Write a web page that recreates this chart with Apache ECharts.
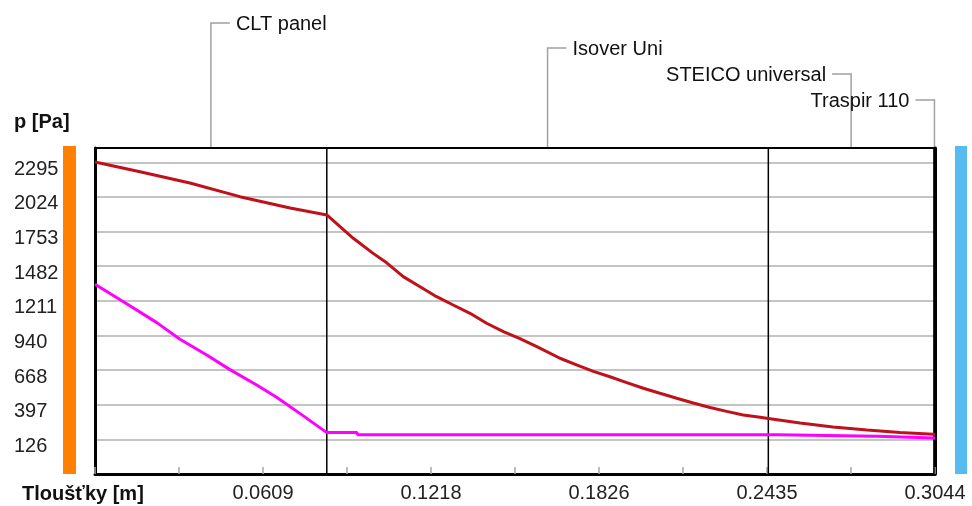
<!DOCTYPE html>
<html>
<head>
<meta charset="utf-8">
<script src="https://cdn.jsdelivr.net/npm/echarts@6/dist/echarts.min.js"></script>
<style>
  html, body { margin: 0; padding: 0; background: #fff; }
  #main { width: 972px; height: 506px; }
</style>
</head>
<body>
<div id="main"></div>
<script>
// layers of the wall (thickness in m)
const layerNames = ['CLT panel', 'Isover Uni', 'STEICO universal', 'Traspir 110'];
const layerThickness = [0.084, 0.16, 0.06, 0.0004];

// x axis
const xMax = 0.3044;
const xTickStep = 0.03044;
const xTickLabels = ['0.0609', '0.1218', '0.1826', '0.2435', '0.3044'];

// y axis
const yMin = -145.1;
const yStep = 271.1;
const yMax = 2407;
const yTickLabels = ['126', '397', '668', '940', '1211', '1482', '1753', '2024', '2295'];

// saturated vapour pressure (red)
const satX = [0, 0.0163, 0.0344, 0.0525, 0.0707, 0.084, 0.0888, 0.0936, 0.1008, 0.1057, 0.1117, 0.1178,
  0.1238, 0.1298, 0.1359, 0.1419, 0.148, 0.154, 0.1601, 0.1685, 0.1745, 0.1806, 0.1866, 0.1927,
  0.1987, 0.2047, 0.2108, 0.2168, 0.2229, 0.2289, 0.2349, 0.241, 0.244, 0.2555, 0.2674, 0.2798,
  0.2917, 0.3037, 0.3044];
const satP = [2298, 2221, 2133, 2026, 1937, 1883, 1791, 1700, 1582, 1508, 1400, 1321,
  1243, 1178, 1113, 1035, 969, 914, 852, 761, 709, 658, 616, 570,
  526, 487, 448, 411, 376, 345, 317, 299, 290, 255, 223, 200,
  179, 166, 165];

// partial vapour pressure (magenta)
const partX = [0, 0.0103, 0.0224, 0.0308, 0.0405, 0.0489, 0.0586, 0.0658, 0.0755, 0.084,
  0.0949, 0.0952, 0.2475, 0.2478, 0.2834, 0.2837, 0.3044];
const partP = [1340, 1204, 1040, 910, 787, 672, 552, 455, 310, 179,
  179, 162, 162, 151, 151, 137, 137];

const font = '"Liberation Sans", Arial, sans-serif';

// layer boundaries
const bounds = [];
let acc = 0;
layerThickness.forEach(t => { acc += t; bounds.push(+acc.toFixed(4)); });

const hiddenAxis = {
  axisLine: { show: true, onZero: false, lineStyle: { color: '#000', width: 2 } },
  axisTick: { show: false },
  axisLabel: { show: false },
  splitLine: { show: false }
};

const series = [
  {
    type: 'line',
    data: satX.map((x, i) => [x, satP[i]]),
    showSymbol: false,
    lineStyle: { color: '#c0101a', width: 3 },
    z: 4
  },
  {
    type: 'line',
    data: partX.map((x, i) => [x, partP[i]]),
    showSymbol: false,
    lineStyle: { color: '#ff00ff', width: 3 },
    z: 3
  }
];
// vertical lines at the layer joints
bounds.slice(0, 3).forEach(b => {
  series.push({
    type: 'line',
    data: [[b, yMin], [b, yMax]],
    showSymbol: false,
    silent: true,
    lineStyle: { color: '#000', width: 1.5 },
    z: 2
  });
});

const chart = echarts.init(document.getElementById('main'));

chart.setOption({
  animation: false,
  backgroundColor: '#fff',
  grid: { left: 95, right: 37, top: 148, bottom: 32 },
  xAxis: [
    {
      type: 'value',
      min: 0,
      max: xMax,
      interval: xTickStep,
      axisLine: { show: true, onZero: false, lineStyle: { color: '#000', width: 3 } },
      axisTick: { show: true, inside: true, length: 7, lineStyle: { color: '#a8a8a8', width: 1.5 } },
      splitLine: { show: false },
      axisLabel: {
        margin: 9,
        color: '#222',
        fontFamily: font,
        fontSize: 20,
        formatter: (v, i) => (i > 0 && i % 2 === 0) ? (xTickLabels[i / 2 - 1] || '') : ''
      }
    },
    Object.assign({ type: 'value', position: 'top', min: 0, max: xMax }, hiddenAxis)
  ],
  yAxis: [
    {
      type: 'value',
      min: yMin,
      max: yMax,
      interval: yStep,
      axisLine: { show: true, onZero: false, lineStyle: { color: '#000', width: 3 } },
      axisTick: { show: false },
      splitLine: { show: true, lineStyle: { color: '#c4c4c4', width: 2 } },
      axisLabel: {
        align: 'left',
        margin: 81,
        color: '#222',
        fontFamily: font,
        fontSize: 20,
        verticalAlign: 'top',
        lineHeight: 14,
        formatter: (v, i) => yTickLabels[i - 1] || ''
      }
    },
    Object.assign({ type: 'value', position: 'right', min: yMin, max: yMax }, hiddenAxis, {
      axisLine: { show: true, onZero: false, lineStyle: { color: '#000', width: 3 } }
    })
  ],
  series: series
});

// leaders and layer names above the plot
const gridTop = chart.convertToPixel({ yAxisIndex: 0 }, yMax);
const gridBottom = chart.convertToPixel({ yAxisIndex: 0 }, yMin);
const leaderY = [23, 48, 74, 100];
const leaderSide = [1, 1, -1, -1];
const graphics = [];
let start = 0;
layerThickness.forEach((t, i) => {
  const x = chart.convertToPixel({ xAxisIndex: 0 }, start + t / 2);
  start += t;
  const y = leaderY[i];
  const s = leaderSide[i];
  graphics.push({
    type: 'polyline',
    shape: { points: [[x, gridTop], [x, y], [x + s * 19, y]] },
    style: { stroke: '#a0a0a0', lineWidth: 1.5, fill: null },
    silent: true
  });
  graphics.push({
    type: 'text',
    x: x + s * 25,
    y: y + 1,
    style: {
      text: layerNames[i],
      font: '20px ' + font,
      fill: '#111',
      align: s > 0 ? 'left' : 'right',
      verticalAlign: 'middle'
    }
  });
});

// inside / outside colour bars
graphics.push({
  type: 'rect',
  shape: { x: 63, y: gridTop - 2, width: 13, height: gridBottom - gridTop + 2 },
  style: { fill: '#ff8000' }
});
graphics.push({
  type: 'rect',
  shape: { x: 955, y: gridTop - 2, width: 12, height: gridBottom - gridTop + 2 },
  style: { fill: '#55bbf0' }
});

// axis titles
graphics.push({
  type: 'text', x: 14, y: 122,
  style: { text: 'p [Pa]', font: 'bold 20px ' + font, fill: '#111', verticalAlign: 'middle' }
});
graphics.push({
  type: 'text', x: 22, y: 494,
  style: { text: 'Tloušťky [m]', font: 'bold 20px ' + font, fill: '#111', verticalAlign: 'middle' }
});

chart.setOption({ graphic: graphics });
</script>
</body>
</html>
